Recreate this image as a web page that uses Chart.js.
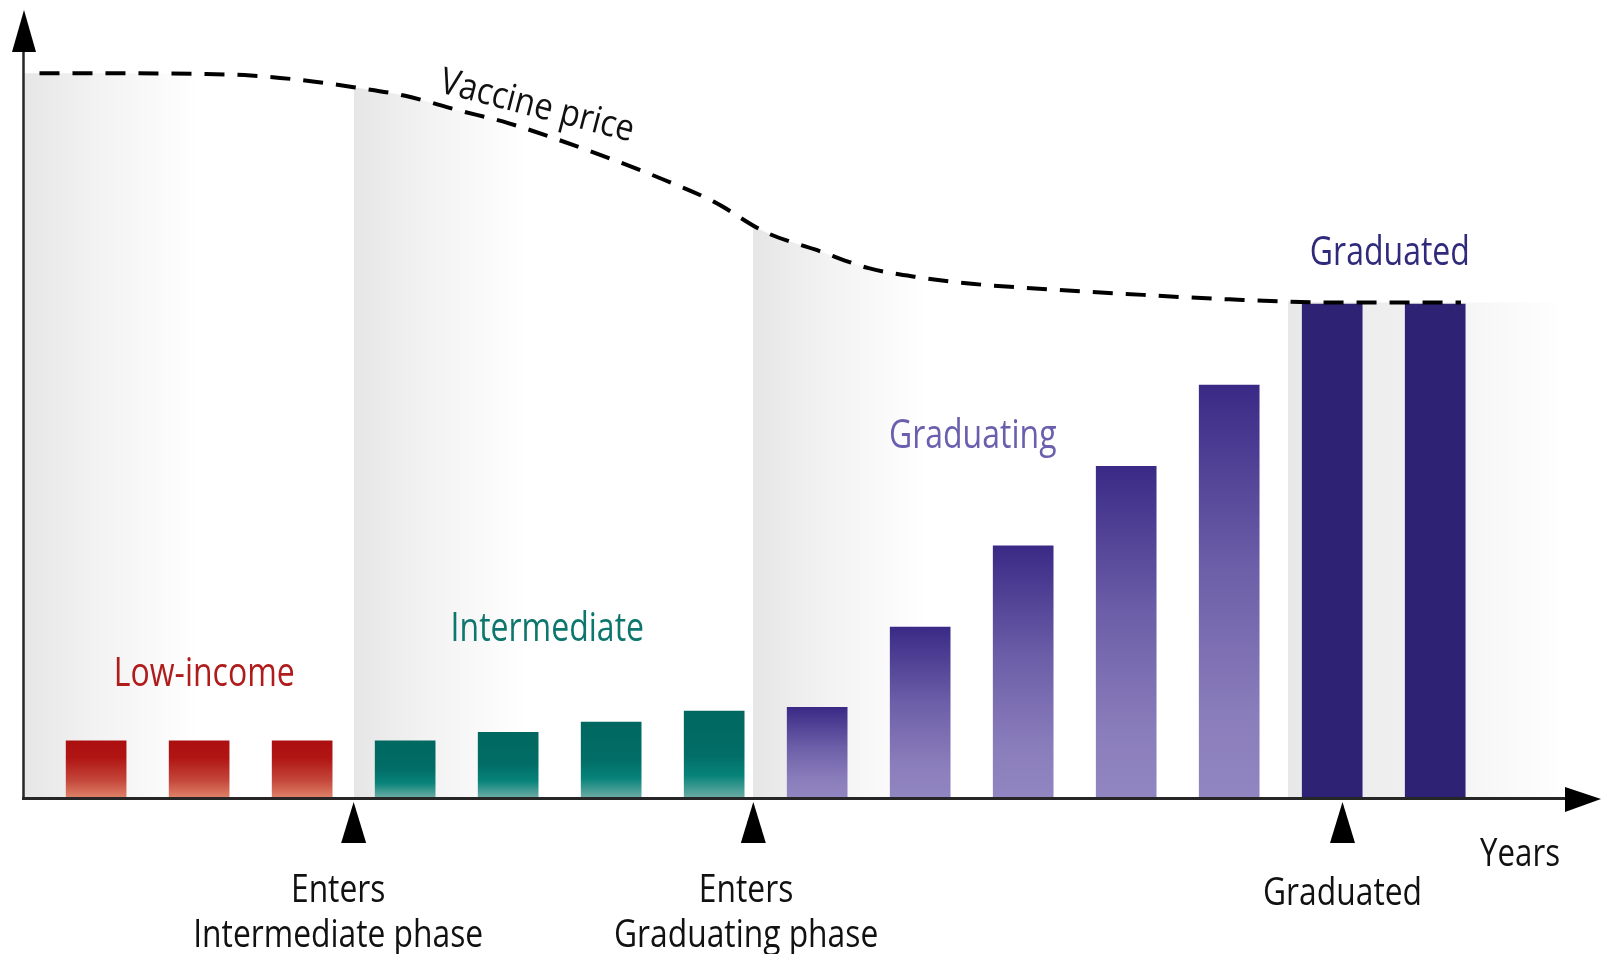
<!DOCTYPE html>
<html>
<head>
<meta charset="utf-8">
<script src="https://cdn.jsdelivr.net/npm/chart.js@4.4.1/dist/chart.umd.min.js"></script>
<style>
  html, body { margin: 0; padding: 0; background: #fff; }
</style>
</head>
<body>
<canvas id="myChart" width="1604" height="954"></canvas>
<script>

// years on the x axis, one bar per year
const years = [1, 2, 3, 4, 5, 6, 7, 8, 9, 10, 11, 12, 13, 14];
// country share of the vaccine cost (arbitrary units)
const countryShare = [7.2, 7.2, 7.2, 7.2, 8.3, 9.6, 11.0, 11.5, 21.8, 32.2, 42.4, 52.8, 63.2, 63.2];
// 0 - Low-income, 1 - Intermediate, 2 - Graduating, 3 - Graduated
const yearPhase = [0, 0, 0, 1, 1, 1, 1, 2, 2, 2, 2, 2, 3, 3];
const phases = ['Low-income', 'Intermediate', 'Graduating', 'Graduated'];
const phaseStart = [0.29, 3.5, 7.38, 12.57];
const phaseLabelX = [2.05, 5.38, 9.51, 13.56];
const phaseLabelY = [14.2, 20.0, 44.7, 68.2];

// vaccine price curve
const priceYears = [0.45, 1, 2, 2.5, 3, 3.5, 4, 4.5, 5, 5.5, 6, 6.5, 7, 7.5, 8, 8.5, 9, 9.5, 10, 11, 12, 13, 14.25];
const priceValues = [92.8, 92.8, 92.7, 92.5, 91.9, 91.0, 89.9, 88.1, 86.4, 84.2, 81.8, 79.2, 76.3, 72.4, 70.1, 67.8, 66.6, 65.8, 65.3, 64.5, 63.8, 63.4, 63.4];

// milestones under the axis
const milestoneYears = [3.5, 7.38, 13.1];
const milestoneTextYears = [3.35, 7.31, 13.1];
const milestoneLabels = [['Enters', 'Intermediate phase'], ['Enters', 'Graduating phase'], ['Graduated']];

const phaseText = ['#b01c1c', '#0d766d', '#6a5fae', '#2f2a7b'];
const barStops = [
  [[0, '#ac0f10'], [0.3, '#b01513'], [0.7, '#c4463a'], [1, '#de8068']],
  [[0, '#006860'], [0.5, '#016d66'], [0.75, '#07837a'], [1, '#68aba3']],
  [[0, '#3a2a86'], [0.45, '#6d5fa8'], [0.8, '#8a7dbb'], [1, '#9186c1']],
  [[0, '#2d2274'], [1, '#2d2274']]
];

const FONT = '"Open Sans", "DejaVu Sans", sans-serif';

function verticalFill(stops) {
  return (c) => {
    const { ctx, chartArea, scales } = c.chart;
    if (!chartArea || c.type !== 'data' || !c.parsed) return stops[0][1];
    const top = scales.y.getPixelForValue(c.parsed.y);
    const base = scales.y.getPixelForValue(0);
    const g = ctx.createLinearGradient(0, top, 0, base);
    stops.forEach(s => g.addColorStop(s[0], s[1]));
    return g;
  };
}

function text(ctx, str, x, y, size, color, align, angle, squeeze) {
  ctx.save();
  ctx.translate(x, y);
  if (angle) ctx.rotate(angle * Math.PI / 180);
  ctx.scale(squeeze || 0.8, 1);
  ctx.font = size + 'px ' + FONT;
  ctx.fillStyle = color;
  ctx.textAlign = align || 'center';
  ctx.textBaseline = 'alphabetic';
  ctx.fillText(str, 0, 0);
  ctx.restore();
}

// grey phase backgrounds under the price curve
const shadePlugin = {
  id: 'shade',
  beforeDatasetsDraw(chart) {
    const { ctx, chartArea: a, scales: { x, y } } = chart;
    const meta = chart.getDatasetMeta(0);
    const line = meta.dataset;
    const pts = meta.data;
    if (!pts.length) return;
    if (line.updateControlPoints) line.updateControlPoints(a, 'x');
    const base = y.getPixelForValue(0);
    const W = a.right - a.left;
    const off = px => Math.min(1, Math.max(0, (px - a.left) / W));

    const g = ctx.createLinearGradient(a.left, 0, a.right, 0);
    phaseStart.forEach((yr, p) => {
      const s = x.getPixelForValue(yr);
      g.addColorStop(off(s), '#ffffff');
      if (p < 3) {
        g.addColorStop(off(s), '#e6e6e6');
        g.addColorStop(off(s + 70), '#f2f2f2');
        g.addColorStop(off(s + 175), '#ffffff');
      } else {
        g.addColorStop(off(s), '#e8e8e8');
        g.addColorStop(off(s + 110), '#efefef');
        g.addColorStop(off(s + 195), '#f7f7f7');
        g.addColorStop(off(s + 280), '#ffffff');
      }
    });

    ctx.save();
    ctx.beginPath();
    line.path(ctx);
    const last = pts[pts.length - 1];
    ctx.lineTo(a.right, last.y);
    ctx.lineTo(a.right, base);
    ctx.lineTo(a.left, base);
    ctx.lineTo(a.left, pts[0].y);
    ctx.closePath();
    ctx.fillStyle = g;
    ctx.fill();
    ctx.restore();
  }
};

// axes, arrows and text
const annotatePlugin = {
  id: 'annotate',
  afterDraw(chart) {
    const { ctx, chartArea: a, scales: { x, y } } = chart;
    const base = y.getPixelForValue(0);

    ctx.save();
    ctx.strokeStyle = '#262626';
    ctx.fillStyle = '#000';
    // y axis
    ctx.lineWidth = 2.5;
    ctx.beginPath();
    ctx.moveTo(a.left + 0.5, a.top + 35);
    ctx.lineTo(a.left + 0.5, base + 2);
    ctx.stroke();
    ctx.beginPath();
    ctx.moveTo(a.left + 1, a.top - 7);
    ctx.lineTo(a.left - 11, a.top + 35);
    ctx.lineTo(a.left + 13, a.top + 35);
    ctx.closePath();
    ctx.fill();
    // x axis
    ctx.lineWidth = 3;
    ctx.beginPath();
    ctx.moveTo(a.left - 1, base + 1.5);
    ctx.lineTo(a.right, base + 1.5);
    ctx.stroke();
    ctx.beginPath();
    ctx.moveTo(a.right, base - 10);
    ctx.lineTo(a.right + 36, base + 2);
    ctx.lineTo(a.right, base + 15);
    ctx.closePath();
    ctx.fill();

    // milestone markers
    milestoneYears.forEach((yr, i) => {
      const mx = x.getPixelForValue(yr);
      ctx.beginPath();
      ctx.moveTo(mx, base + 5);
      ctx.lineTo(mx - 12.5, base + 46);
      ctx.lineTo(mx + 12.5, base + 46);
      ctx.closePath();
      ctx.fill();
      const tx = x.getPixelForValue(milestoneTextYears[i]);
      const lines = milestoneLabels[i];
      if (lines.length === 2) {
        text(ctx, lines[0], tx, base + 105, 39, '#111', 'center', 0, 0.815);
        text(ctx, lines[1], tx, base + 150, 39, '#111', 'center', 0, 0.815);
      } else {
        text(ctx, lines[0], tx, base + 108, 39, '#111', 'center', 0, 0.815);
      }
    });
    ctx.restore();

    text(ctx, 'Years', a.right - 5, base + 69, 39, '#111', 'right');

    phases.forEach((name, p) => {
      text(ctx, name, x.getPixelForValue(phaseLabelX[p]), y.getPixelForValue(phaseLabelY[p]), 40, phaseText[p]);
    });

    text(ctx, 'Vaccine price', x.getPixelForValue(4.32), y.getPixelForValue(90.4), 37, '#111', 'left', 14.5, 0.88);
  }
};

const barSets = phases.map((name, p) => ({
  type: 'bar',
  label: name,
  data: years.map((yr, i) => ({ x: yr, y: countryShare[i], p: yearPhase[i] }))
    .filter(d => d.p === p)
    .map(d => ({ x: d.x, y: d.y })),
  backgroundColor: verticalFill(barStops[p]),
  borderWidth: 0,
  barThickness: 60,
  grouped: false,
  order: 2
}));

const ctx = document.getElementById('myChart').getContext('2d');
const chart = new Chart(ctx, {
  type: 'bar',
  data: {
    datasets: [{
      type: 'line',
      label: 'Vaccine price',
      data: priceYears.map((yr, i) => ({ x: yr, y: priceValues[i] })),
      borderColor: '#000',
      borderWidth: 4,
      borderDash: [20, 13],
      pointRadius: 0,
      fill: false,
      cubicInterpolationMode: 'monotone',
      order: 0
    }].concat(barSets)
  },
  options: {
    responsive: false,
    animation: false,
    layout: { padding: { left: 23, right: 39, top: 17, bottom: 157 } },
    scales: {
      x: { type: 'linear', min: 0.29, max: 15.26, offset: false, display: false },
      y: { min: 0, max: 100, display: false }
    },
    plugins: {
      legend: { display: false },
      tooltip: { enabled: false }
    }
  },
  plugins: [shadePlugin, annotatePlugin]
});

</script>
</body>
</html>
